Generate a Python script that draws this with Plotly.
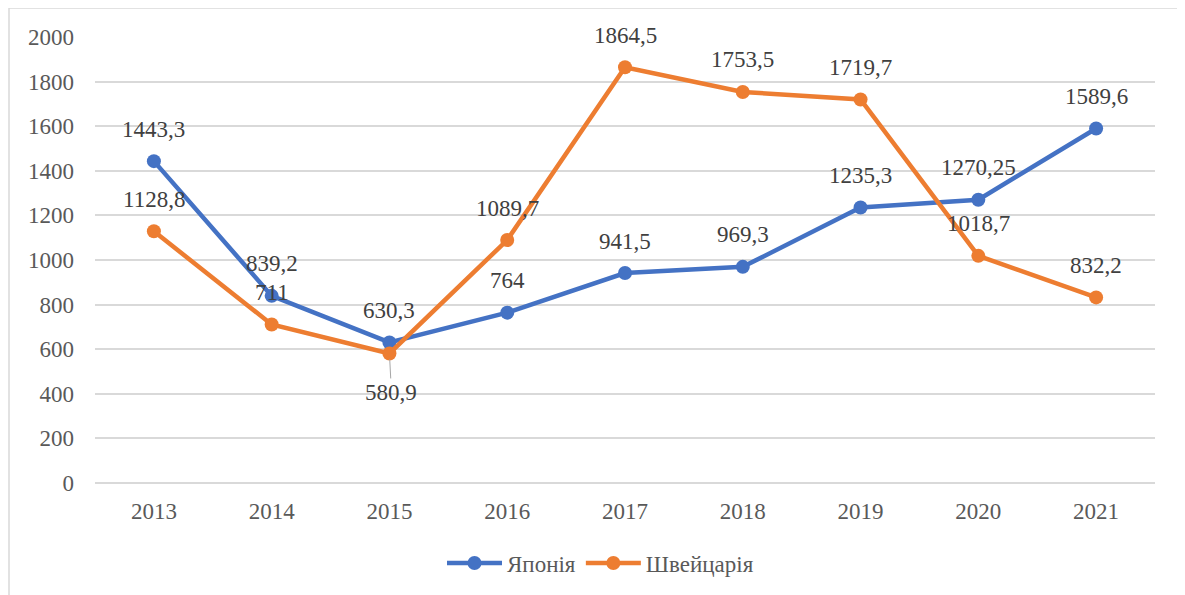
import plotly.graph_objects as go

years = ["2013", "2014", "2015", "2016", "2017", "2018", "2019", "2020", "2021"]
japan = [1443.3, 839.2, 630.3, 764, 941.5, 969.3, 1235.3, 1270.25, 1589.6]
swiss = [1128.8, 711, 580.9, 1089.7, 1864.5, 1753.5, 1719.7, 1018.7, 832.2]
japan_labels = ["1443,3", "839,2", "630,3", "764", "941,5", "969,3", "1235,3", "1270,25", "1589,6"]
swiss_labels = ["1128,8", "711", "580,9", "1089,7", "1864,5", "1753,5", "1719,7", "1018,7", "832,2"]
y_ticks = [0, 200, 400, 600, 800, 1000, 1200, 1400, 1600, 1800, 2000]

BLUE = "#4472C4"
ORANGE = "#ED7D31"
TXT = "#595959"
FONT = "Times New Roman"
FS = 23

# figure-pixel geometry (page body adds an 8px offset)
L, R, T, B = 87, 38, 29, 120
W, H = 1185, 595
PW, PH = W - L - R, H - T - B

fig = go.Figure()
fig.add_trace(go.Scatter(x=years, y=japan, name="Японія", mode="lines+markers",
                         line=dict(color=BLUE, width=4.5), marker=dict(size=14, color=BLUE)))
fig.add_trace(go.Scatter(x=years, y=swiss, name="Швейцарія", mode="lines+markers",
                         line=dict(color=ORANGE, width=4.5), marker=dict(size=14, color=ORANGE)))

lab_font = dict(family=FONT, size=FS, color="#404040")
annotations = []
for i, (y, t) in enumerate(zip(japan, japan_labels)):
    annotations.append(dict(x=i, y=y, text=t, showarrow=False, yanchor="middle", yshift=32,
                            font=lab_font))
for i, (y, t) in enumerate(zip(swiss, swiss_labels)):
    if t == "580,9":
        annotations.append(dict(x=i, y=y, text=t, showarrow=True, arrowhead=0, ax=2, ay=39,
                                arrowcolor="#A6A6A6", arrowwidth=1, standoff=6, font=lab_font))
    else:
        annotations.append(dict(x=i, y=y, text=t, showarrow=False, yanchor="middle", yshift=32,
                                font=lab_font))

fig.update_layout(
    width=W, height=H,
    template="none",
    paper_bgcolor="white", plot_bgcolor="white",
    margin=dict(l=L, r=R, t=T, b=B),
    font=dict(family=FONT, size=FS, color=TXT),
    showlegend=True,
    legend=dict(orientation="h", xref="container", x=0.5, xanchor="center",
                yref="container", y=(H - 555) / H, yanchor="middle",
                font=dict(family=FONT, size=FS, color=TXT), itemwidth=55),
    annotations=annotations,
    shapes=[dict(type="rect", xref="paper", yref="paper",
                 x0=(1 - L) / PW, x1=(1170 - L) / PW, y0=-(620 - T - PH) / PH, y1=1 + (T - 0) / PH,
                 line=dict(color="#D9D9D9", width=1.5), fillcolor="rgba(0,0,0,0)", layer="below")],
)
fig.update_xaxes(type="category", range=[-0.5, len(years) - 0.5], showgrid=False, showline=False,
                 zeroline=False, tickfont=dict(family=FONT, size=FS, color=TXT), ticks="",
                 ticklabelstandoff=12)
fig.update_yaxes(range=[0, 2000], tickvals=y_ticks, showgrid=True, gridcolor="#D9D9D9", gridwidth=1.5,
                 zeroline=True, zerolinecolor="#D9D9D9", zerolinewidth=1.5, showline=False,
                 tickfont=dict(family=FONT, size=FS, color=TXT), ticks="", ticklabelstandoff=20)

fig.write_html("out.html")
